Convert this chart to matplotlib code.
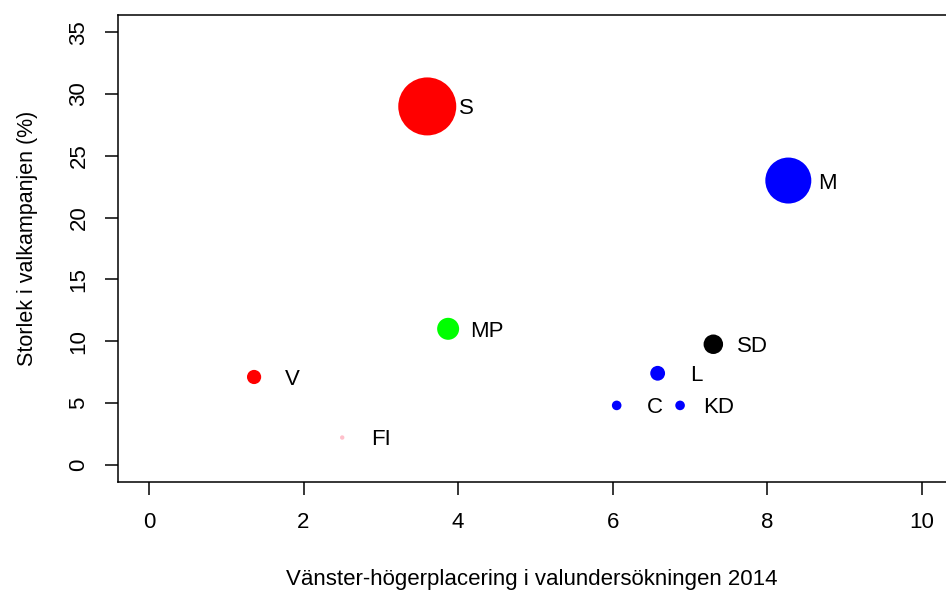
import matplotlib.pyplot as plt
import matplotlib as mpl

mpl.rcParams.update({
    "font.family": "Liberation Sans",
    "font.size": 16,
    "axes.linewidth": 1.1,
})

# ---------- data ----------
parties = ["V", "FI", "S", "MP", "C", "L", "KD", "SD", "M"]
left_right = [1.36, 2.50, 3.60, 3.87, 6.05, 6.58, 6.87, 7.30, 8.27]
campaign_size = [7.1, 2.2, 29.0, 11.0, 4.8, 7.4, 4.8, 9.75, 23.0]
party_colors = ["#ff0000", "#ffc0cb", "#ff0000", "#00ff00", "#0000ff",
                "#0000ff", "#0000ff", "#000000", "#0000ff"]

xticks = [0, 2, 4, 6, 8, 10]
yticks = [0, 5, 10, 15, 20, 25, 30, 35]

W, H, DPI = 946, 592, 100
fig = plt.figure(figsize=(W / DPI, H / DPI), dpi=DPI)
# plot box: left 118px, top 15px, bottom 482px, right edge cut off by the image
ax = fig.add_axes([118 / W, 1 - 482 / H, (953 - 118) / W, (482 - 15) / H])

# marker radius in px roughly equal to the campaign size value
sizes = [(2 * v * 72 / DPI) ** 2 for v in campaign_size]
ax.scatter(left_right, campaign_size, s=sizes, c=party_colors,
           edgecolors="none", zorder=3)

for x, y, lab in zip(left_right, campaign_size, parties):
    ax.text(x + 0.5, y - 0.2, lab, ha="center", va="center", fontsize=16,
            color="#000000", zorder=4)

ax.set_xlim(-0.4, 10.4)
ax.set_ylim(-1.4, 36.4)
ax.set_xticks(xticks)
ax.set_yticks(yticks)
ax.tick_params(direction="out", length=9.5, width=1.1, colors="#000000",
               labelsize=16)
ax.tick_params(axis="x", pad=12)
ax.tick_params(axis="y", pad=11)
for lbl in ax.get_yticklabels():
    lbl.set_rotation(90)
    lbl.set_va("center")

fig.text(532 / W, 1 - 579 / H, "Vänster-högerplacering i valundersökningen 2014",
         ha="center", va="center", fontsize=16)
fig.text(27 / W, 1 - 238 / H, "Storlek i valkampanjen (%)",
         ha="center", va="center", rotation=90, fontsize=15.5)

fig.savefig("out.png", dpi=DPI)
